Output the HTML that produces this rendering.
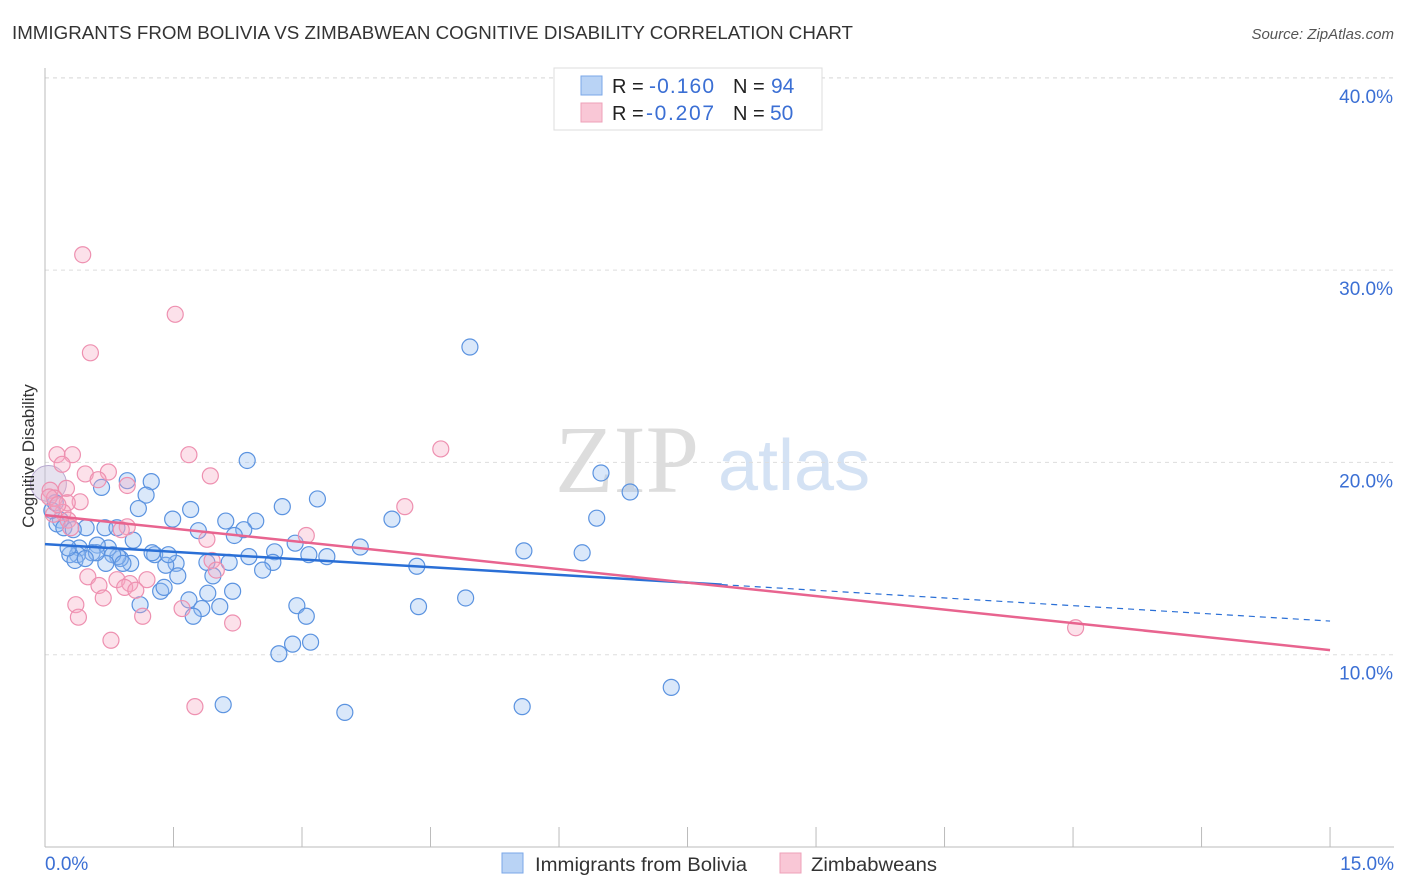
<!DOCTYPE html>
<html><head><meta charset="utf-8"><style>
body{margin:0;background:#fff;font-family:"Liberation Sans",sans-serif;}
svg{display:block}
</style></head><body>
<svg id="chart" width="1406" height="892">
<text x="12" y="39" font-size="18" fill="#333" textLength="841" lengthAdjust="spacingAndGlyphs">IMMIGRANTS FROM BOLIVIA VS ZIMBABWEAN COGNITIVE DISABILITY CORRELATION CHART</text>
<text x="1394" y="39" font-size="15" fill="#555" text-anchor="end" font-style="italic">Source: ZipAtlas.com</text>
<text x="555" y="492" font-size="96" fill="#ddd" font-family="Liberation Serif,serif">ZIP</text>
<text x="718" y="490" font-size="72" fill="#d4e2f4">atlas</text>
<g id="grid"></g>
<line x1="45" y1="68" x2="45" y2="847" stroke="#bbb"/>
<line x1="45" y1="847" x2="1394" y2="847" stroke="#bbb"/>
<g id="xt"></g>
<g id="pts"></g>
<g id="trend"></g>
<text transform="translate(34,456) rotate(-90)" font-size="17" fill="#333" text-anchor="middle">Cognitive Disability</text>
<text x="45" y="870" font-size="19" fill="#3b6fd4">0.0%</text>
<text x="1394" y="870" font-size="19" fill="#3b6fd4" text-anchor="end">15.0%</text>
<g>
<rect x="554" y="68" width="268" height="62" fill="#fff" stroke="#ddd"/>
<rect x="581" y="76" width="21" height="19" fill="#b9d3f5" stroke="#7aa7e8"/>
<rect x="581" y="103" width="21" height="19" fill="#f9c7d6" stroke="#eea0b8"/>
<text x="612" y="93" font-size="20" fill="#222">R = </text><text x="649" y="93" font-size="21" fill="#3b6fd4" textLength="65">-0.160</text>
<text x="733" y="93" font-size="20" fill="#222">N = </text><text x="771" y="93" font-size="21" fill="#3b6fd4">94</text>
<text x="612" y="120" font-size="20" fill="#222">R = </text><text x="646" y="120" font-size="21" fill="#3b6fd4" textLength="68">-0.207</text>
<text x="733" y="120" font-size="20" fill="#222">N = </text><text x="770" y="120" font-size="21" fill="#3b6fd4">50</text>
</g>
<g>
<rect x="502" y="853" width="21" height="20" fill="#b9d3f5" stroke="#7aa7e8"/>
<text x="535" y="871" font-size="19" fill="#333" textLength="212" lengthAdjust="spacingAndGlyphs">Immigrants from Bolivia</text></g>
<g>
<rect x="780" y="853" width="21" height="20" fill="#f9c7d6" stroke="#eea0b8"/>
<text x="811" y="871" font-size="19" fill="#333" textLength="126" lengthAdjust="spacingAndGlyphs">Zimbabweans</text></g>
</svg>
<script>
const yTicks=[10,20,30,40];
const xTicks=[0,1.5,3,4.5,6,7.5,9,10.5,12,13.5,15];
const blueX=[4.96,6.49,6.83,6.44,5.59,6.27,7.31,5.57,3.5,2.08,4.05,4.34,4.36,4.91,3.68,3.18,2.77,2.36,1.24,0.96,0.66,1.18,1.09,1.70,1.49,2.11,2.46,2.32,2.21,1.79,2.92,2.68,2.38,3.08,3.29,2.66,2.54,2.15,1.89,1.96,1.53,1.55,1.41,1.28,1.25,1.44,1.03,1.00,0.88,0.85,0.74,0.79,0.61,0.55,0.40,0.38,0.29,0.35,0.27,0.48,0.70,0.84,0.71,0.91,1.35,1.39,1.11,1.68,1.90,2.19,1.83,2.04,1.73,2.94,3.05,2.89,3.10,2.73,0.18,0.14,0.22,0.33,0.08,0.12,0.6,0.47];
const blueY=[26.0,19.45,18.46,17.1,15.4,15.3,8.3,7.3,7.0,7.4,17.05,14.6,12.5,12.95,15.6,18.1,17.7,20.1,19.0,19.05,18.7,18.3,17.6,17.55,17.05,16.95,16.95,16.5,16.2,16.45,15.8,15.35,15.1,15.2,15.1,14.8,14.4,14.8,14.8,14.1,14.75,14.1,14.65,15.2,15.3,15.2,15.95,14.75,15.0,15.1,15.55,15.2,15.7,15.3,15.55,15.2,15.2,14.9,15.55,16.6,16.6,16.6,14.75,14.75,13.3,13.5,12.6,12.85,13.2,13.3,12.4,12.5,12.0,12.55,12.0,10.55,10.65,10.05,17.0,16.8,16.6,16.5,17.5,17.9,15.3,15.0];
const pinkX=[0.44,1.52,0.53,4.62,1.68,1.93,0.14,0.32,0.2,0.47,0.74,0.62,0.96,0.25,0.06,0.11,0.41,0.26,0.21,4.2,0.96,0.89,1.89,3.05,0.5,0.63,0.84,0.99,1.19,0.93,1.06,0.68,0.36,0.39,1.14,1.60,1.95,2.0,2.19,0.77,1.75,12.03,0.27,0.1,0.3,0.05,0.15];
const pinkY=[30.8,27.7,25.7,20.7,20.4,19.3,20.4,20.4,19.9,19.4,19.5,19.1,18.8,18.65,18.55,18.15,17.95,17.9,17.4,17.7,16.65,16.5,16.0,16.2,14.05,13.6,13.9,13.7,13.9,13.5,13.35,12.95,12.6,11.95,12.0,12.4,14.9,14.4,11.65,10.75,7.3,11.4,17.0,17.3,16.6,18.2,17.8];
const blueTrend=[15.75,11.75], blueSolidEnd=7.9;
const pinkTrend=[17.26,10.24];
const X=v=>45+v*85.67, Y=v=>847-v*19.23;
const NS='http://www.w3.org/2000/svg';
function mk(t,a,p){const e=document.createElementNS(NS,t);for(const k in a)e.setAttribute(k,a[k]);p.appendChild(e);return e;}
const grid=document.getElementById('grid');
yTicks.forEach(v=>{
 const l=mk('line',{x1:45,x2:1394,y1:Y(v),y2:Y(v),stroke:'#ddd','stroke-dasharray':'4,4'},grid);
 
 
 const t=mk('text',{x:1393,y:Y(v)+25,'font-size':19,fill:'#3b6fd4','text-anchor':'end'},grid);
 t.textContent=v.toFixed(1)+'%';
 
 
});
mk('line',{x1:45,x2:1394,y1:78,y2:78,stroke:'#ddd','stroke-dasharray':'4,4'},grid);
const xt=document.getElementById('xt');
xTicks.forEach(v=>{
 const l=mk('line',{x1:X(v),x2:X(v),y1:827,y2:847,stroke:'#bbb'},xt);
 
 
});
const pts=document.getElementById('pts');
const big=mk('circle',{cx:X(0.04),cy:Y(18.9),r:18,fill:'rgba(200,190,220,0.45)',stroke:'#b7a8d0'},pts);


blueX.forEach((x,i)=>{
 const c=mk('circle',{cx:X(x),cy:Y(blueY[i]),r:8,fill:'rgba(150,190,240,0.35)',stroke:'#5b93e0','stroke-width':1.2},pts);
 
 
});
pinkX.forEach((x,i)=>{
 const c=mk('circle',{cx:X(x),cy:Y(pinkY[i]),r:8,fill:'rgba(245,170,195,0.35)',stroke:'#ee90b0','stroke-width':1.2},pts);
 
 
});
const tr=document.getElementById('trend');
const bAt=x=>blueTrend[0]+(blueTrend[1]-blueTrend[0])*x/15;
let l1=mk('line',{x1:X(0),y1:Y(bAt(0)),x2:X(blueSolidEnd),y2:Y(bAt(blueSolidEnd)),stroke:'#2a6fd6','stroke-width':2.5},tr);


let l2=mk('line',{x1:X(blueSolidEnd),y1:Y(bAt(blueSolidEnd)),x2:X(15),y2:Y(bAt(15)),stroke:'#2a6fd6','stroke-width':1.2,'stroke-dasharray':'6,5'},tr);


let l3=mk('line',{x1:X(0),y1:Y(pinkTrend[0]),x2:X(15),y2:Y(pinkTrend[1]),stroke:'#e8648f','stroke-width':2.5},tr);


</script>
</body></html>
